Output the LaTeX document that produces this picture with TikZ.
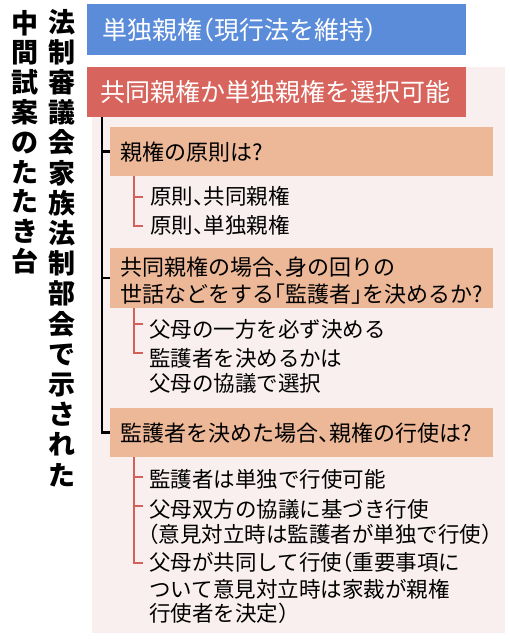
\documentclass[tikz,border=0pt]{standalone}
\usepackage{fontspec}
\newfontfamily\jp{Noto Sans CJK JP}
\newfontfamily\jph[RawFeature=+halt]{Noto Sans CJK JP}
\newcommand\hp[1]{{\jph #1}}
\definecolor{bluebox}{HTML}{5B8CD9}
\definecolor{redbox}{HTML}{D8655D}
\definecolor{peach}{HTML}{EDB898}
\definecolor{pinkbg}{HTML}{F9EFEF}
\definecolor{redline}{HTML}{D4605A}
\tikzset{
  panel/.style={inner sep=0pt, outer sep=0pt, anchor=north west, draw=none},
  boxtext/.style={inner sep=0pt, anchor=base west, text=white, font=\jp\fontsize{25}{27}\selectfont},
  qtext/.style={inner sep=0pt, anchor=base west, text=black, font=\jp\fontsize{22}{26}\selectfont},
  itext/.style={inner sep=0pt, anchor=base west, text=black, font=\jp\fontsize{21.5}{26}\selectfont},
  ttext/.style={inner sep=0pt, anchor=base, text=black, font=\jp\bfseries\fontsize{27}{30}\selectfont},
  trunk/.style={draw=black, line width=2.6pt},
  twig/.style={draw=redline, line width=2.2pt}
}
\begin{document}
\begin{tikzpicture}[x=1pt,y=-1pt]
\useasboundingbox (0,0) rectangle (509,640);
\fill[white] (0,0) rectangle (509,640);
% background panel
\node[panel, fill=pinkbg, minimum width=413pt, minimum height=566pt] (bg) at (92,67) {};
% top boxes
\node[panel, fill=bluebox, minimum width=379pt, minimum height=51pt] (blue) at (87,4) {};
\node[boxtext] (bluet) at (102,39) {単独親権\hp{（}現行法を維持\hp{）}};
\node[panel, fill=redbox, minimum width=379pt, minimum height=50pt] (red) at (87,67) {};
\node[boxtext] (redt) at (100,101) {共同親権か単独親権を選択可能};
% question boxes
\node[panel, fill=peach, minimum width=383pt, minimum height=49pt] (p1) at (110,127) {};
\node[qtext] (q1) at (120,160) {親権の原則は?};
\node[panel, fill=peach, minimum width=383pt, minimum height=60pt] (p2) at (110,248) {};
\node[qtext] (q2a) at (120,275) {共同親権の場合\hp{、}身の回りの};
\node[qtext] (q2b) at (120,302) {世話などをする\hp{「}監護者\hp{」}を決めるか?};
\node[panel, fill=peach, minimum width=383pt, minimum height=49pt] (p3) at (110,408) {};
\node[qtext] (q3) at (120,441) {監護者を決めた場合\hp{、}親権の行使は?};
% items
\node[itext] (a1) at (150,204) {原則\hp{、}共同親権};
\node[itext] (a2) at (150,233) {原則\hp{、}単独親権};
\node[itext] (b1) at (149,337) {父母の一方を必ず決める};
\node[itext] (b2a) at (149,366) {監護者を決めるかは};
\node[itext] (b2b) at (149,391) {父母の協議で選択};
\node[itext] (c1) at (149,487) {監護者は単独で行使可能};
\node[itext] (c2a) at (149,517) {父母双方の協議に基づき行使};
\node[itext] (c2b) at (148,542) {\hp{（}意見対立時は監護者が単独で行使\hp{）}};
\node[itext] (c3a) at (149,570) {父母が共同して行使\hp{（}重要事項に};
\node[itext] (c3b) at (149,597) {ついて意見対立時は家裁が親権};
\node[itext] (c3c) at (149,621) {行使者を決定\hp{）}};
% trunk connectors
\coordinate (tr) at (102,117);
\draw[trunk] (tr) |- (p3.west);
\draw[trunk] (tr |- p1.west) -- (p1.west);
\draw[trunk] (tr |- p2.west) -- (p2.west);
% twig connectors
\coordinate (g1) at (134,176);
\coordinate (g1a) at (143,197);
\coordinate (g1b) at (143,226);
\draw[twig] (g1) |- (g1b);
\draw[twig] (g1 |- g1a) -- (g1a);
\coordinate (g2) at (134,308);
\coordinate (g2a) at (143,324);
\coordinate (g2b) at (143,353);
\draw[twig] (g2) |- (g2b);
\draw[twig] (g2 |- g2a) -- (g2a);
\coordinate (g3) at (134,457);
\coordinate (g3a) at (143,477);
\coordinate (g3b) at (143,506);
\coordinate (g3c) at (143,563);
\draw[twig] (g3) |- (g3c);
\draw[twig] (g3 |- g3a) -- (g3a);
\draw[twig] (g3 |- g3b) -- (g3b);
% vertical title
\foreach \ch [count=\i] in {法,制,審,議,会,家,族,法,制,部,会,で,示,さ,れ,た}
  \node[ttext] (r\i) at (62,{32+30.2*(\i-1)}) {\ch};
\foreach \ch [count=\i] in {中,間,試,案,の,た,た,き,台}
  \node[ttext] (l\i) at (25,{33+29.8*(\i-1)}) {\ch};
\end{tikzpicture}
\end{document}
